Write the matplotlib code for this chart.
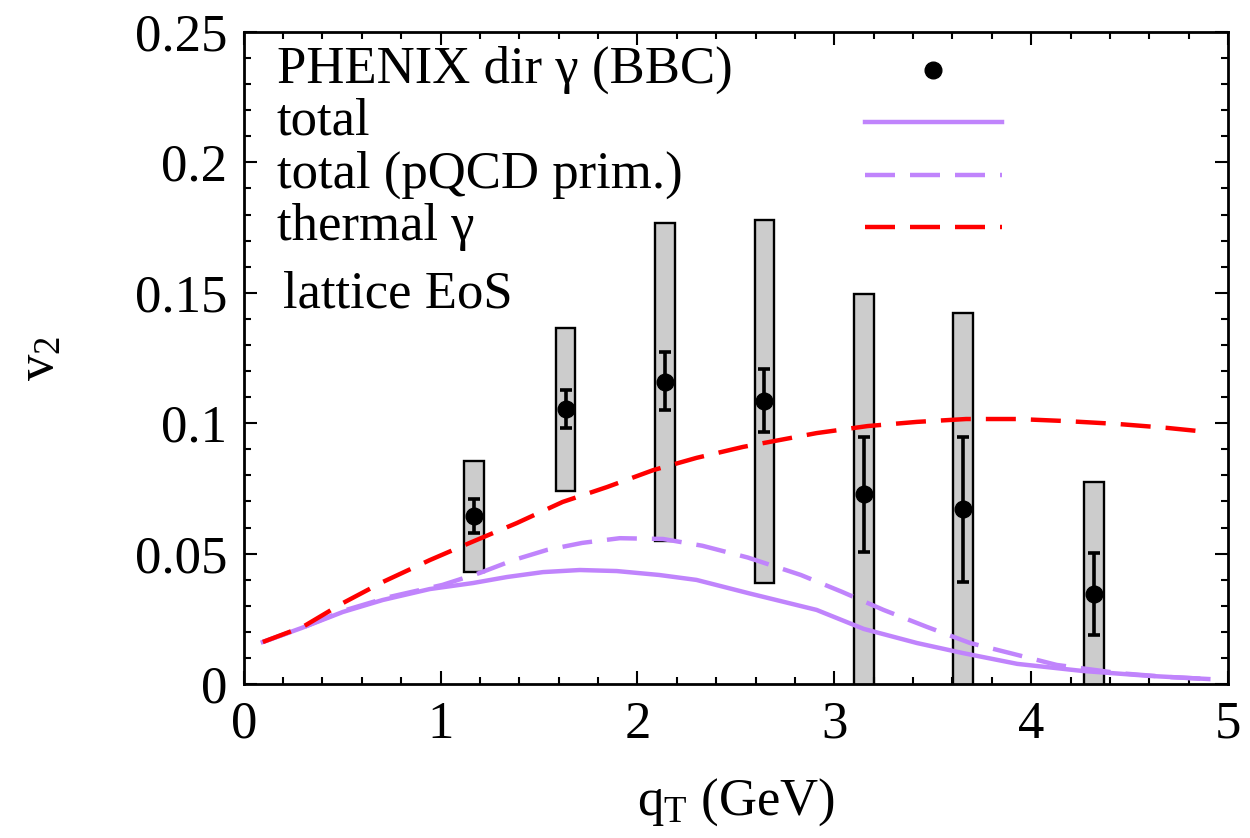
import numpy as np
import matplotlib
matplotlib.use("Agg")
import matplotlib.pyplot as plt
from matplotlib.patches import Rectangle
from matplotlib.ticker import MultipleLocator

plt.rcParams['font.family'] = ['Liberation Serif', 'DejaVu Serif']
plt.rcParams['mathtext.fontset'] = 'custom'
plt.rcParams['mathtext.rm'] = 'Liberation Serif'
plt.rcParams['mathtext.it'] = 'Liberation Serif:italic'

# PHENIX direct photon v2 (BBC), stat + syst errors
qt_data = [1.17, 1.635, 2.14, 2.645, 3.15, 3.655, 4.32]
v2_data = [0.0644, 0.1054, 0.1158, 0.1085, 0.0728, 0.0671, 0.0345]
stat_lo = [0.0579, 0.0983, 0.1050, 0.0966, 0.0506, 0.0390, 0.0188]
stat_hi = [0.0709, 0.1128, 0.1273, 0.1208, 0.0947, 0.0947, 0.0502]
syst_lo = [0.0429, 0.0740, 0.0548, 0.0387, -0.01, -0.01, -0.01]
syst_hi = [0.0855, 0.1365, 0.1768, 0.1780, 0.1495, 0.1423, 0.0775]

# hydro curves, lattice EoS
qt_total = [0.097, 0.295, 0.503, 0.706, 0.945, 1.164, 1.336, 1.52, 1.707, 1.895,
            2.11, 2.30, 2.57, 2.91, 3.15, 3.42, 3.65, 3.93, 4.26, 4.60, 4.90]
v2_total = [0.0161, 0.0215, 0.0276, 0.0322, 0.0364, 0.0387, 0.0410, 0.0429, 0.0437, 0.0433,
            0.0418, 0.0399, 0.0347, 0.0284, 0.0211, 0.0157, 0.0119, 0.0077, 0.0050, 0.0031, 0.0019]

qt_pqcd = [0.097, 0.295, 0.503, 0.742, 1.01, 1.2, 1.37, 1.54, 1.72, 1.91, 2.13,
           2.33, 2.56, 2.83, 3.04, 3.25, 3.47, 3.69, 3.89, 4.13, 4.44, 4.69, 4.90]
v2_pqcd = [0.0161, 0.0215, 0.0280, 0.0334, 0.0380, 0.0426, 0.0475, 0.0514, 0.0541, 0.0559, 0.0556,
           0.0530, 0.0485, 0.0418, 0.0353, 0.0284, 0.0219, 0.0157, 0.0119, 0.0073, 0.0042, 0.0027, 0.0019]

qt_therm = [0.097, 0.30, 0.503, 0.706, 0.945, 1.148, 1.387, 1.62, 1.845, 2.08, 2.30, 2.536,
            2.91, 3.17, 3.42, 3.67, 3.93, 4.18, 4.44, 4.69, 4.90]
v2_therm = [0.0161, 0.0219, 0.0310, 0.0391, 0.0475, 0.0541, 0.0617, 0.0698, 0.0755, 0.0820,
            0.0867, 0.0909, 0.0962, 0.0989, 0.1005, 0.1016, 0.1016, 0.1008, 0.0997, 0.0982, 0.0966]

y_ticks = [0, 0.05, 0.1, 0.15, 0.2, 0.25]
y_ticklabels = ['0', '0.05', '0.1', '0.15', '0.2', '0.25']

purple = '#c084fc'
red = '#ff0000'
lw = 3.2
dash = (21.6 / lw, 10.8 / lw)
fs = 38

fig = plt.figure(figsize=(12.5, 8.38), dpi=100)
ax = fig.add_axes([0.195, 0.1838, 0.7874, 0.778])

# systematic boxes
for x, lo, hi in zip(qt_data, syst_lo, syst_hi):
    ax.add_patch(Rectangle((x - 0.05, lo), 0.1, hi - lo, facecolor='#cccccc',
                           edgecolor='black', linewidth=1.7, zorder=1))

ax.plot(qt_total, v2_total, color=purple, lw=lw, zorder=3)
ax.plot(qt_pqcd, v2_pqcd, color=purple, lw=lw, dashes=dash, zorder=3)
ax.plot(qt_therm, v2_therm, color=red, lw=lw, dashes=dash, zorder=3)

yerr = [np.array(v2_data) - np.array(stat_lo), np.array(stat_hi) - np.array(v2_data)]
ax.errorbar(qt_data, v2_data, yerr=yerr, fmt='o', color='black', ms=12,
            elinewidth=2.6, capsize=4, capthick=2.6, zorder=4)

ax.set_xlim(0, 5)
ax.set_ylim(0, 0.25)
ax.xaxis.set_major_locator(MultipleLocator(1))
ax.xaxis.set_minor_locator(MultipleLocator(0.2))
ax.set_yticks(y_ticks)
ax.set_yticklabels(y_ticklabels)
ax.yaxis.set_minor_locator(MultipleLocator(0.01))
ax.tick_params(which='both', direction='in', top=True, right=True, width=1.5,
               labelsize=fs)
ax.tick_params(which='major', length=9.4, pad=12)
ax.tick_params(which='minor', length=5)
for s in ax.spines.values():
    s.set_linewidth(2)

ax.set_xlabel(r'q$_\mathrm{T}$ (GeV)', fontsize=fs, labelpad=20)
ax.set_ylabel(r'v$_\mathrm{2}$', fontsize=fs, labelpad=50)

# key
tx = 0.0335
rows = [0.9417, 0.862, 0.781, 0.701]
ax.text(tx, rows[0], 'PHENIX dir γ (BBC)', transform=ax.transAxes, fontsize=fs, va='center')
ax.text(tx, rows[1], 'total', transform=ax.transAxes, fontsize=fs, va='center')
ax.text(tx, rows[2], 'total (pQCD prim.)', transform=ax.transAxes, fontsize=fs, va='center')
ax.text(tx, rows[3], 'thermal γ', transform=ax.transAxes, fontsize=fs, va='center')
ax.text(0.0396, 0.597, 'lattice EoS', transform=ax.transAxes, fontsize=fs, va='center')
ax.plot([0.700], [rows[0]], 'o', color='black', ms=12, transform=ax.transAxes)
ax.plot([0.631, 0.770], [rows[1]] * 2, color=purple, lw=lw, transform=ax.transAxes)
ax.plot([0.631, 0.770], [rows[2]] * 2, color=purple, lw=lw, dashes=dash, transform=ax.transAxes)
ax.plot([0.631, 0.770], [rows[3]] * 2, color=red, lw=lw, dashes=dash, transform=ax.transAxes)

fig.savefig('out.png', dpi=100)
